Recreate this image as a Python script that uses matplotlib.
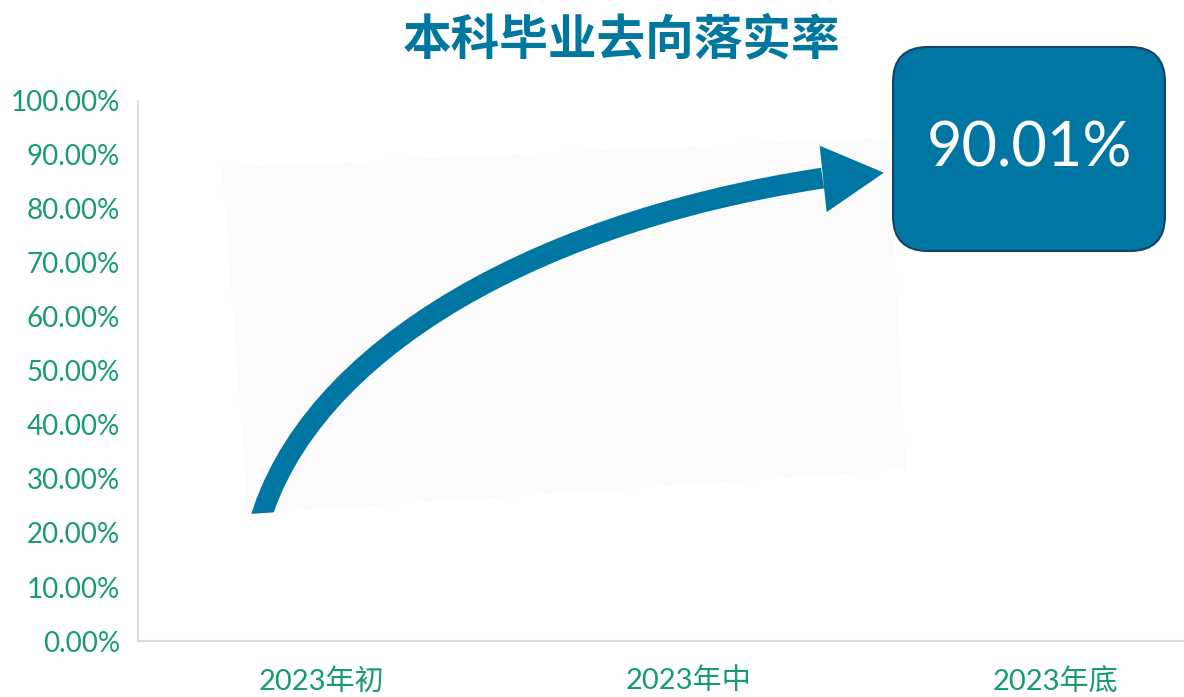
import matplotlib
matplotlib.use('Agg')
import matplotlib.pyplot as plt
from matplotlib.patches import Polygon, FancyBboxPatch, PathPatch
from matplotlib.path import Path
from matplotlib.ticker import PercentFormatter

plt.rcParams['font.family'] = ['Lato', 'Noto Sans CJK SC', 'DejaVu Sans']

# data
title = '本科毕业去向落实率'
categories = ['2023年初', '2023年中', '2023年底']
final_rate = 90.01
y_ticks = [0, 0.1, 0.2, 0.3, 0.4, 0.5, 0.6, 0.7, 0.8, 0.9, 1.0]

# decorative arrow (bezier control points, axis units)
arrow_x = [-0.184, -0.085, 0.542, 1.365]
arrow_y = [0.178, 0.515, 0.772, 0.857]
head_x = [1.357, 1.532, 1.376]
head_y = [0.917, 0.867, 0.794]
panel_x = [-0.271, 1.545, 1.592, -0.200]
panel_y = [0.876, 0.933, 0.317, 0.235]

blue = '#0077a2'
green = '#179b73'

fig = plt.figure(figsize=(11.84, 6.97), dpi=100)
ax = fig.add_axes([0.1166, 0.0803, 0.93, 0.775])

ax.set_xlim(-0.5, 2.5)
ax.set_ylim(0, 1.0)
ax.set_xticks(range(len(categories)))
ax.set_xticklabels(categories)
ax.set_yticks(y_ticks)
ax.yaxis.set_major_formatter(PercentFormatter(1.0, decimals=2))
ax.tick_params(axis='both', length=0, labelcolor=green)
ax.tick_params(axis='y', pad=13, labelsize=20)
ax.tick_params(axis='x', pad=19, labelsize=21)

for s in ['top', 'right']:
    ax.spines[s].set_visible(False)
ax.spines['left'].set_color('#d9d9d9')
ax.spines['bottom'].set_color('#d9d9d9')
ax.spines['left'].set_linewidth(1.2)
ax.spines['bottom'].set_linewidth(1.5)

# light panel behind the arrow
panel = Polygon(list(zip(panel_x, panel_y)), closed=True, facecolor='#fbfbfb',
                edgecolor='none', zorder=1, clip_on=False)
ax.add_patch(panel)

curve = Path(list(zip(arrow_x, arrow_y)),
             [Path.MOVETO, Path.CURVE4, Path.CURVE4, Path.CURVE4])
shaft = PathPatch(curve, facecolor='none', edgecolor=blue, linewidth=15,
                  capstyle='butt', zorder=2)
ax.add_patch(shaft)
shaft.set_clip_path(panel)
head = Polygon(list(zip(head_x, head_y)), closed=True, facecolor=blue,
               edgecolor='none', zorder=3, clip_on=False)
ax.add_patch(head)

# value box (inches)
box = FancyBboxPatch((8.93, 4.46), 2.72, 2.04,
                     boxstyle='round,pad=0,rounding_size=0.35',
                     transform=fig.dpi_scale_trans, facecolor='#0077a3',
                     edgecolor='#1c3f66', linewidth=1.5, zorder=5)
fig.patches.append(box)
fig.text(1029 / 1184, 1 - 149 / 697, f'{final_rate:.2f}%', color='white',
         fontsize=44, ha='center', va='center', zorder=6)

fig.text(0.525, 0.943, title, color='#00779f', fontsize=35, fontweight='black',
         ha='center', va='center', family=['Noto Sans CJK SC'])

fig.savefig('out.png', dpi=100)
